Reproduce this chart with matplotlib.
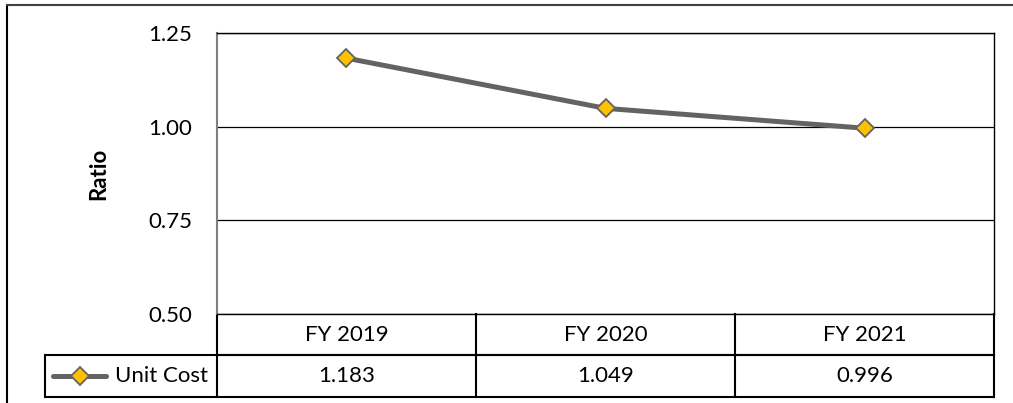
#!/usr/bin/env python3
import matplotlib
matplotlib.use("Agg")
import matplotlib.pyplot as plt
from matplotlib.lines import Line2D

# data
years = ["FY 2019", "FY 2020", "FY 2021"]
unit_cost = [1.183, 1.049, 0.996]
series_name = "Unit Cost"
yticks = [0.50, 0.75, 1.00, 1.25]

plt.rcParams['font.family'] = ['Lato', 'DejaVu Sans']
line_col = '#636363'
mark_col = '#FFC000'
fs = 16

fig = plt.figure(figsize=(10.13, 4.03), dpi=100)
ax = fig.add_axes([0.2142, 0.2208, 0.7671, 0.6972])

x = list(range(len(years)))
ax.plot(x, unit_cost, color=line_col, lw=3.6, marker='D', markersize=9.5,
        markerfacecolor=mark_col, markeredgecolor=line_col, markeredgewidth=1.3,
        zorder=3, solid_capstyle='round')

ax.set_xlim(-0.5, len(years) - 0.5)
ax.set_ylim(0.5, 1.25)
ax.set_yticks(yticks)
ax.set_yticklabels([f"{v:.2f}" for v in yticks], fontsize=fs)
ax.set_xticks([])
ax.tick_params(axis='y', length=0, pad=18)
ax.yaxis.grid(True, color='black', lw=0.9)
ax.set_axisbelow(True)
for s in ['top', 'right', 'bottom']:
    ax.spines[s].set_color('black')
    ax.spines[s].set_linewidth(1.0)
ax.spines['left'].set_color('#808080')
ax.spines['left'].set_linewidth(1.5)
ax.set_ylabel("Ratio", fontsize=fs, fontweight='bold', labelpad=28)

# data table under the plot (x in data coords, y in axes coords)
tr = ax.get_xaxis_transform()
h1, h2 = -0.146, -0.295
lab_left = -0.5 - 172 / 259.0
kw = dict(transform=tr, color='black', lw=1.5, clip_on=False)
ax.add_line(Line2D([-0.5, 2.5], [h1, h1], **kw))
ax.add_line(Line2D([lab_left, 2.5], [h1, h1], **kw))
ax.add_line(Line2D([lab_left, 2.5], [h2, h2], **kw))
ax.add_line(Line2D([lab_left, lab_left], [h1, h2], **kw))
for b in [-0.5, 0.5, 1.5, 2.5]:
    ax.add_line(Line2D([b, b], [0, h2], **kw))
for i, (yr, v) in enumerate(zip(years, unit_cost)):
    ax.text(i, h1 / 2, yr, transform=tr, ha='center', va='center', fontsize=fs)
    ax.text(i, (h1 + h2) / 2, f"{v:.3f}", transform=tr, ha='center', va='center', fontsize=fs)

# legend key in row label cell
ym = (h1 + h2) / 2
ax.add_line(Line2D([lab_left + 0.03, lab_left + 0.235], [ym, ym], transform=tr,
                   color=line_col, lw=3.6, clip_on=False, solid_capstyle='round'))
ax.add_line(Line2D([lab_left + 0.135], [ym], transform=tr, marker='D', markersize=9.5,
                   markerfacecolor=mark_col, markeredgecolor=line_col,
                   markeredgewidth=1.3, clip_on=False))
ax.text(-0.535, ym, series_name, transform=tr, ha='right', va='center', fontsize=fs)

# outer chart frame (left and top)
fig.add_artist(Line2D([0.0069, 0.0069], [0.0, 0.9876], color='black', lw=1.5))
fig.add_artist(Line2D([0.0069, 1.0], [0.9876, 0.9876], color='#404040', lw=1.5))

fig.savefig("out.png", dpi=100)
